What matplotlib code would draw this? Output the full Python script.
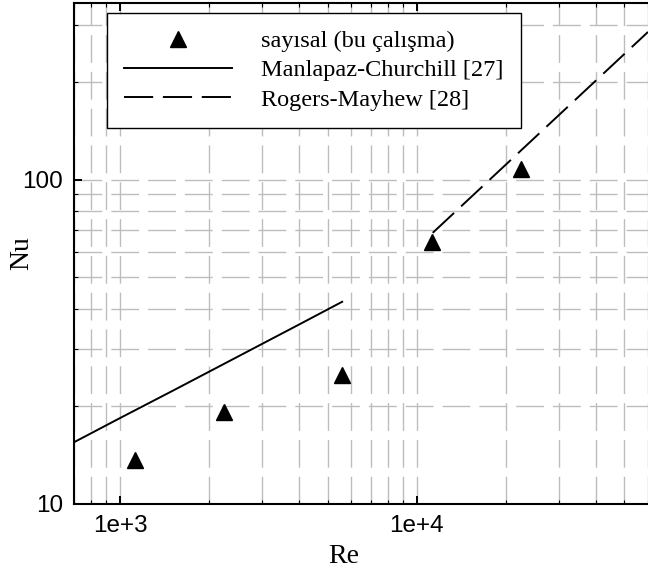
import matplotlib

matplotlib.use("Agg")
import matplotlib.pyplot as plt
from matplotlib.ticker import FixedFormatter, FixedLocator, LogLocator, NullFormatter

# numerical results (this study)
re_num = [1120, 2240, 5600, 11200, 22400]
nu_num = [13.7, 19.2, 25.0, 64.4, 108.0]

# Manlapaz-Churchill correlation [27]
re_mc = [700, 1000, 1500, 2000, 3000, 4000, 5600]
nu_mc = [15.5, 18.4, 22.3, 25.6, 31.1, 35.7, 42.0]

# Rogers-Mayhew correlation [28]
re_rm = [11300, 60000]
nu_rm = [68.5, 285.0]

x_ticks = [1e3, 1e4]
x_tick_labels = ["1e+3", "1e+4"]
y_ticks = [10, 100]
y_tick_labels = ["10", "100"]

plt.rcParams["font.family"] = ["Liberation Sans", "DejaVu Sans"]
plt.rcParams["lines.scale_dashes"] = False
serif = ["Liberation Serif", "DejaVu Serif"]
dash = (0, (21, 7))

fig = plt.figure(figsize=(6.48, 5.75), dpi=100)
ax = fig.add_axes([74 / 648, 71 / 575, 574 / 648, 501 / 575])
ax.set_xscale("log")
ax.set_yscale("log")

ax.plot(re_num, nu_num, linestyle="none", marker="^", markersize=12,
        color="black", label="sayısal (bu çalışma)", zorder=3)
ax.plot(re_mc, nu_mc, color="black", linewidth=1.4,
        label="Manlapaz-Churchill [27]", zorder=3)
ax.plot(re_rm, nu_rm, color="black", linewidth=1.4, linestyle=dash,
        label="Rogers-Mayhew [28]", zorder=3)

ax.set_xlim(700, 60000)
ax.set_ylim(10, 350)

ax.xaxis.set_major_locator(FixedLocator(x_ticks))
ax.xaxis.set_major_formatter(FixedFormatter(x_tick_labels))
ax.xaxis.set_minor_locator(LogLocator(base=10, subs=range(2, 10)))
ax.xaxis.set_minor_formatter(NullFormatter())
ax.yaxis.set_major_locator(FixedLocator(y_ticks))
ax.yaxis.set_major_formatter(FixedFormatter(y_tick_labels))
ax.yaxis.set_minor_locator(LogLocator(base=10, subs=range(2, 10)))
ax.yaxis.set_minor_formatter(NullFormatter())

ax.grid(True, which="both", color="#bdbdbd", linewidth=1.0, linestyle=(0, (20, 6.5)))
ax.set_axisbelow(True)

ax.tick_params(which="both", direction="in", top=True, right=False)
ax.tick_params(which="major", length=6, width=1.4, labelsize=17.5, pad=8)
ax.tick_params(which="minor", length=3, width=0.8)
for side in ["left", "bottom", "top"]:
    ax.spines[side].set_linewidth(1.5)
ax.spines["right"].set_visible(False)

ax.set_xlabel("Re", fontsize=20, family=serif)
ax.set_ylabel("Nu", fontsize=20, family=serif)
ax.xaxis.set_label_coords(0.469, -0.08)
ax.yaxis.set_label_coords(-0.07, 0.5)

leg = ax.legend(loc="upper left", bbox_to_anchor=(0.0575, 0.98), borderaxespad=0,
                prop={"family": serif, "size": 17.5}, numpoints=1, handlelength=4.45,
                handletextpad=1.2, labelspacing=0.3, borderpad=0.7,
                fancybox=False, framealpha=1, edgecolor="black")
leg.get_frame().set_linewidth(1.0)

fig.savefig("out.png", dpi=100)
